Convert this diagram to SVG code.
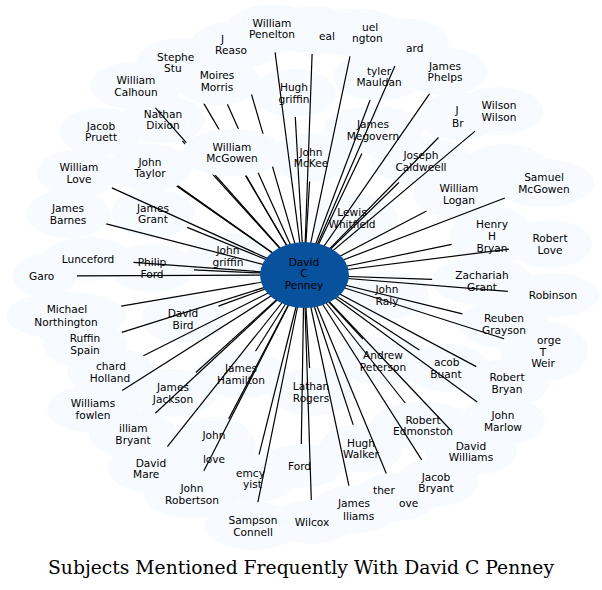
<svg xmlns="http://www.w3.org/2000/svg" width="602" height="590" viewBox="0 0 602 590">
<style>
.cloud ellipse{fill:#f7fbff;stroke:none}
text{font-family:"DejaVu Sans","Liberation Sans",sans-serif;font-size:10.6px;fill:#000;text-anchor:middle}
text.s{text-anchor:start}
#edges line{stroke:#000;stroke-width:1.2}
#center ellipse{fill:#08519c}
text.title{font-family:"DejaVu Serif","Liberation Serif",serif;font-size:18px}
</style>
<defs>
<mask id="cover" maskUnits="userSpaceOnUse" x="0" y="0" width="602" height="590">
<rect width="602" height="590" fill="#fff"/>
<ellipse cx="232" cy="152.5" rx="50" ry="24" fill="#000"/>
<ellipse cx="217" cy="81" rx="42" ry="24" fill="#000"/>
<ellipse cx="150" cy="167.5" rx="42" ry="24" fill="#000"/>
</mask>
</defs>
<rect width="602" height="590" fill="#fff"/>
<g class="cloud" id="cloud">
<ellipse cx="180" cy="62.5" rx="44" ry="24"/>
<ellipse cx="136" cy="86" rx="46" ry="24"/>
<ellipse cx="163" cy="119.5" rx="42" ry="24"/>
<ellipse cx="101" cy="131.5" rx="42" ry="24"/>
<ellipse cx="217" cy="81" rx="42" ry="24"/>
<ellipse cx="237" cy="44.5" rx="46" ry="24"/>
<ellipse cx="272" cy="28.5" rx="46" ry="24"/>
<ellipse cx="313" cy="30" rx="42" ry="24"/>
<ellipse cx="355" cy="32.5" rx="50" ry="24"/>
<ellipse cx="405" cy="42.5" rx="44" ry="24"/>
<ellipse cx="445" cy="71.5" rx="42" ry="24"/>
<ellipse cx="379" cy="76.5" rx="46" ry="24"/>
<ellipse cx="294" cy="93" rx="42" ry="24"/>
<ellipse cx="311" cy="157.5" rx="42" ry="24"/>
<ellipse cx="373" cy="130" rx="50" ry="24"/>
<ellipse cx="459" cy="116.5" rx="42" ry="24"/>
<ellipse cx="499" cy="111" rx="44" ry="24"/>
<ellipse cx="421" cy="161" rx="50" ry="24"/>
<ellipse cx="459" cy="194" rx="46" ry="24"/>
<ellipse cx="505" cy="168" rx="44" ry="24"/>
<ellipse cx="544" cy="183" rx="50" ry="24"/>
<ellipse cx="492" cy="236" rx="42" ry="30"/>
<ellipse cx="550" cy="244" rx="42" ry="24"/>
<ellipse cx="482" cy="281" rx="50" ry="24"/>
<ellipse cx="553" cy="295" rx="46" ry="22"/>
<ellipse cx="504" cy="324" rx="46" ry="24"/>
<ellipse cx="544" cy="351.5" rx="44" ry="30"/>
<ellipse cx="447" cy="368" rx="42" ry="24"/>
<ellipse cx="507" cy="383" rx="42" ry="24"/>
<ellipse cx="383" cy="361" rx="48" ry="24"/>
<ellipse cx="387" cy="295" rx="42" ry="24"/>
<ellipse cx="503" cy="421" rx="42" ry="24"/>
<ellipse cx="423" cy="425.5" rx="52" ry="24"/>
<ellipse cx="471" cy="451.5" rx="46" ry="24"/>
<ellipse cx="361" cy="448.5" rx="42" ry="24"/>
<ellipse cx="436" cy="482.5" rx="42" ry="24"/>
<ellipse cx="396" cy="497" rx="42" ry="24"/>
<ellipse cx="354" cy="509.5" rx="44" ry="24"/>
<ellipse cx="312" cy="522" rx="42" ry="22"/>
<ellipse cx="301" cy="466" rx="42" ry="22"/>
<ellipse cx="253" cy="526" rx="48" ry="24"/>
<ellipse cx="253" cy="478.5" rx="44" ry="24"/>
<ellipse cx="192" cy="494" rx="48" ry="24"/>
<ellipse cx="214" cy="447" rx="42" ry="30"/>
<ellipse cx="150" cy="468.5" rx="42" ry="24"/>
<ellipse cx="133" cy="434" rx="44" ry="24"/>
<ellipse cx="93" cy="409" rx="46" ry="24"/>
<ellipse cx="173" cy="393" rx="44" ry="24"/>
<ellipse cx="111" cy="372" rx="44" ry="24"/>
<ellipse cx="85" cy="344" rx="42" ry="24"/>
<ellipse cx="66" cy="315.5" rx="60" ry="24"/>
<ellipse cx="183" cy="319" rx="42" ry="24"/>
<ellipse cx="241" cy="374" rx="46" ry="24"/>
<ellipse cx="311" cy="392" rx="42" ry="24"/>
<ellipse cx="88" cy="259" rx="46" ry="22"/>
<ellipse cx="45" cy="276" rx="32" ry="22"/>
<ellipse cx="152" cy="268" rx="42" ry="24"/>
<ellipse cx="68" cy="214" rx="42" ry="24"/>
<ellipse cx="153" cy="213.5" rx="42" ry="24"/>
<ellipse cx="79" cy="173" rx="42" ry="24"/>
<ellipse cx="150" cy="167.5" rx="42" ry="24"/>
<ellipse cx="232" cy="152.5" rx="50" ry="24"/>
<ellipse cx="228" cy="256" rx="42" ry="24"/>
<ellipse cx="352" cy="218" rx="46" ry="24"/>
</g>
<g id="n-stephen"><text class="s" x="157" y="61">Stephe</text><text class="s" x="164" y="72">Stu</text></g>
<g id="n-calhoun"><text x="136" y="84">William</text><text x="136" y="96">Calhoun</text></g>
<g id="n-dixion"><text x="163" y="118">Nathan</text><text x="163" y="129">Dixion</text></g>
<g id="n-pruett"><text x="101" y="130">Jacob</text><text x="101" y="141">Pruett</text></g>
<g id="n-morris"><text x="217" y="79">Moires</text><text x="217" y="91">Morris</text></g>
<g id="n-reaso"><text class="s" x="221" y="43">J</text><text class="s" x="215" y="54">Reaso</text></g>
<g id="n-penelton"><text x="272" y="27">William</text><text x="272" y="38">Penelton</text></g>
<g id="n-neal"><text class="s" x="319" y="40">eal</text></g>
<g id="n-edgington"><text class="s" x="362" y="31">uel</text><text class="s" x="352" y="42">ngton</text></g>
<g id="n-ard"><text class="s" x="406" y="52">ard</text></g>
<g id="n-phelps"><text x="445" y="70">James</text><text x="445" y="81">Phelps</text></g>
<g id="n-mauldan"><text x="379" y="75">tyler</text><text x="379" y="86">Mauldan</text></g>
<g id="n-hughgriffin"><text x="294" y="91">Hugh</text><text x="294" y="103">griffin</text></g>
<g id="n-mckee"><text x="311" y="156">John</text><text x="311" y="167">McKee</text></g>
<g id="n-megovern"><text x="373" y="128">James</text><text x="373" y="140">Megovern</text></g>
<g id="n-jbr"><text x="457" y="114">J</text><text class="s" x="452" y="127">Br</text></g>
<g id="n-wilson"><text x="499" y="109">Wilson</text><text x="499" y="121">Wilson</text></g>
<g id="n-caldweell"><text x="421" y="159">Joseph</text><text x="421" y="171">Caldweell</text></g>
<g id="n-logan"><text x="459" y="192">William</text><text x="459" y="204">Logan</text></g>
<g id="n-smcgowen"><text x="544" y="181">Samuel</text><text x="544" y="193">McGowen</text></g>
<g id="n-henry"><text x="492" y="228">Henry</text><text x="492" y="240">H</text><text x="492" y="252">Bryan</text></g>
<g id="n-rlove"><text x="550" y="242">Robert</text><text x="550" y="254">Love</text></g>
<g id="n-zachariah"><text x="482" y="279">Zachariah</text><text x="482" y="291">Grant</text></g>
<g id="n-robinson"><text x="553" y="299">Robinson</text></g>
<g id="n-reuben"><text x="504" y="322">Reuben</text><text x="504" y="334">Grayson</text></g>
<g id="n-weir"><text class="s" x="537" y="344">orge</text><text x="543" y="356">T</text><text x="543" y="367">Weir</text></g>
<g id="n-buant"><text class="s" x="434" y="366">acob</text><text x="446" y="378">Buant</text></g>
<g id="n-rbryan"><text x="507" y="381">Robert</text><text x="507" y="393">Bryan</text></g>
<g id="n-peterson"><text x="383" y="359">Andrew</text><text x="383" y="371">Peterson</text></g>
<g id="n-raly"><text x="387" y="293">John</text><text x="387" y="305">Raly</text></g>
<g id="n-marlow"><text x="503" y="419">John</text><text x="503" y="431">Marlow</text></g>
<g id="n-edmonston"><text x="423" y="424">Robert</text><text x="423" y="435">Edmonston</text></g>
<g id="n-dwilliams"><text x="471" y="450">David</text><text x="471" y="461">Williams</text></g>
<g id="n-walker"><text x="361" y="447">Hugh</text><text x="361" y="458">Walker</text></g>
<g id="n-jbryant"><text x="436" y="481">Jacob</text><text x="436" y="492">Bryant</text></g>
<g id="n-grove"><text class="s" x="373" y="494">ther</text><text class="s" x="399" y="507">ove</text></g>
<g id="n-jwilliams"><text x="354" y="507">James</text><text class="s" x="343" y="520">lliams</text></g>
<g id="n-wilcox"><text x="312" y="526">Wilcox</text></g>
<g id="n-ford"><text class="s" x="288" y="470">Ford</text></g>
<g id="n-connell"><text x="253" y="524">Sampson</text><text x="253" y="536">Connell</text></g>
<g id="n-emcy"><text class="s" x="236" y="477">emcy</text><text class="s" x="243" y="488">yist</text></g>
<g id="n-robertson"><text x="192" y="492">John</text><text x="192" y="504">Robertson</text></g>
<g id="n-jlove"><text x="214" y="439">John</text><text x="214" y="463">love</text></g>
<g id="n-marek"><text x="151" y="467">David</text><text class="s" x="133" y="478">Mare</text></g>
<g id="n-wbryant"><text class="s" x="119" y="432">illiam</text><text x="133" y="444">Bryant</text></g>
<g id="n-fowlen"><text x="93" y="407">Williams</text><text x="93" y="419">fowlen</text></g>
<g id="n-jackson"><text x="173" y="391">James</text><text x="173" y="403">Jackson</text></g>
<g id="n-holland"><text class="s" x="96" y="370">chard</text><text x="110" y="382">Holland</text></g>
<g id="n-spain"><text x="85" y="342">Ruffin</text><text x="85" y="354">Spain</text></g>
<g id="n-northington"><text x="67" y="313">Michael</text><text x="66" y="326">Northington</text></g>
<g id="n-bird"><text x="183" y="317">David</text><text x="183" y="329">Bird</text></g>
<g id="n-hamilton"><text x="241" y="372">James</text><text x="241" y="384">Hamilton</text></g>
<g id="n-rogers"><text x="311" y="390">Lathan</text><text x="311" y="402">Rogers</text></g>
<g id="n-lunceford"><text x="88" y="263">Lunceford</text></g>
<g id="n-garo"><text class="s" x="29" y="280">Garo</text></g>
<g id="n-philipford"><text x="152" y="266">Philip</text><text x="152" y="278">Ford</text></g>
<g id="n-barnes"><text x="68" y="212">James</text><text x="68" y="224">Barnes</text></g>
<g id="n-jgrant"><text x="153" y="212">James</text><text x="153" y="223">Grant</text></g>
<g id="n-wlove"><text x="79" y="171">William</text><text x="79" y="183">Love</text></g>
<g id="n-taylor"><text x="150" y="166">John</text><text x="150" y="177">Taylor</text></g>
<g id="n-wmcgowen"><text x="232" y="151">William</text><text x="232" y="162">McGowen</text></g>
<g id="n-jgriffin"><text x="228" y="254">John</text><text x="228" y="266">griffin</text></g>
<g id="n-whitfield"><text x="352" y="216">Lewis</text><text x="352" y="228">Whitfield</text></g>
<g id="edges" mask="url(#cover)">
<line x1="304" y1="275" x2="193.3" y2="85.4"/>
<line x1="304" y1="275" x2="155.4" y2="107.8"/>
<line x1="304" y1="275" x2="182.3" y2="140.8"/>
<line x1="304" y1="275" x2="127.4" y2="150.2"/>
<line x1="304" y1="275" x2="227.4" y2="104.2"/>
<line x1="304" y1="275" x2="243.9" y2="68.2"/>
<line x1="304" y1="275" x2="275.1" y2="52.4"/>
<line x1="304" y1="275" x2="312.1" y2="54"/>
<line x1="304" y1="275" x2="350" y2="56.4"/>
<line x1="304" y1="275" x2="394.9" y2="65.9"/>
<line x1="304" y1="275" x2="429.5" y2="93.8"/>
<line x1="304" y1="275" x2="370.1" y2="100"/>
<line x1="304" y1="275" x2="295.3" y2="117"/>
<line x1="304" y1="275" x2="309.6" y2="181.5"/>
<line x1="304" y1="275" x2="361.9" y2="153.4"/>
<line x1="304" y1="275" x2="438.5" y2="137.5"/>
<line x1="304" y1="275" x2="475.1" y2="131.1"/>
<line x1="304" y1="275" x2="398.9" y2="182.5"/>
<line x1="304" y1="275" x2="426.5" y2="211"/>
<line x1="304" y1="275" x2="504.9" y2="198"/>
<line x1="304" y1="275" x2="451.7" y2="244.4"/>
<line x1="304" y1="275" x2="509" y2="249.2"/>
<line x1="304" y1="275" x2="432.1" y2="279.3"/>
<line x1="304" y1="275" x2="507.8" y2="291.4"/>
<line x1="304" y1="275" x2="462.4" y2="313.8"/>
<line x1="304" y1="275" x2="504.1" y2="338.8"/>
<line x1="304" y1="275" x2="419.3" y2="350"/>
<line x1="304" y1="275" x2="476.3" y2="366.6"/>
<line x1="304" y1="275" x2="363" y2="339.2"/>
<line x1="304" y1="275" x2="477.2" y2="402.1"/>
<line x1="304" y1="275" x2="405.2" y2="403"/>
<line x1="304" y1="275" x2="450.6" y2="430"/>
<line x1="304" y1="275" x2="353.2" y2="424.9"/>
<line x1="304" y1="275" x2="421.7" y2="459.9"/>
<line x1="304" y1="275" x2="386.3" y2="473.6"/>
<line x1="304" y1="275" x2="348.9" y2="485.7"/>
<line x1="304" y1="275" x2="311.3" y2="500"/>
<line x1="304" y1="275" x2="301.3" y2="444"/>
<line x1="304" y1="275" x2="257.9" y2="502.1"/>
<line x1="304" y1="275" x2="259" y2="454.7"/>
<line x1="304" y1="275" x2="203.9" y2="470.7"/>
<line x1="304" y1="275" x2="228.7" y2="418.9"/>
<line x1="304" y1="275" x2="167.4" y2="446.7"/>
<line x1="304" y1="275" x2="155.3" y2="413.3"/>
<line x1="304" y1="275" x2="122.2" y2="390.5"/>
<line x1="304" y1="275" x2="195.8" y2="372.5"/>
<line x1="304" y1="275" x2="143.4" y2="355.7"/>
<line x1="304" y1="275" x2="121.8" y2="332.4"/>
<line x1="304" y1="275" x2="121.2" y2="306.1"/>
<line x1="304" y1="275" x2="218.4" y2="306.1"/>
<line x1="304" y1="275" x2="255.5" y2="351.2"/>
<line x1="304" y1="275" x2="309.6" y2="368"/>
<line x1="304" y1="275" x2="133.5" y2="262.4"/>
<line x1="304" y1="275" x2="77" y2="275.8"/>
<line x1="304" y1="275" x2="193.9" y2="269.9"/>
<line x1="304" y1="275" x2="106.3" y2="223.9"/>
<line x1="304" y1="275" x2="187.2" y2="227.4"/>
<line x1="304" y1="275" x2="111.9" y2="187.9"/>
<line x1="304" y1="275" x2="176.6" y2="186.1"/>
<line x1="304" y1="275" x2="245.6" y2="175.6"/>
</g>
<g id="center"><ellipse cx="304.5" cy="275" rx="44.5" ry="33"/><text x="304" y="266">David</text><text x="304" y="277">C</text><text x="304" y="289">Penney</text></g>
<text class="title" x="301" y="574" textLength="506" lengthAdjust="spacingAndGlyphs">Subjects Mentioned Frequently With David C Penney</text>
</svg>
